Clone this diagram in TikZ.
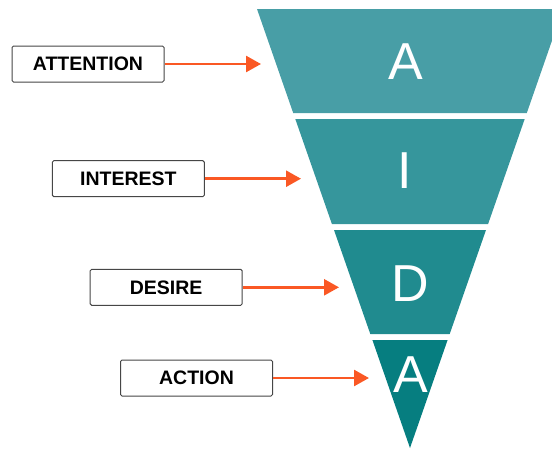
\documentclass[tikz,border=0pt]{standalone}
\usepackage{fontspec}
\setmainfont{Liberation Sans}
\usetikzlibrary{arrows.meta}
\definecolor{bandA}{RGB}{72,158,166}
\definecolor{bandI}{RGB}{54,150,156}
\definecolor{bandD}{RGB}{32,139,143}
\definecolor{bandAc}{RGB}{6,126,128}
\definecolor{arrowc}{RGB}{250,88,36}
\definecolor{boxline}{RGB}{70,70,70}
\tikzset{
  labelbox/.style={draw=boxline, line width=1pt, rounded corners=1.5pt, fill=white,
    minimum width=152pt, minimum height=36pt, inner sep=0pt,
    font=\fontsize{19.5}{20}\selectfont\bfseries, text=black},
  bigletter/.style={text=white, font=\fontsize{52}{52}\selectfont, anchor=base, inner sep=0pt},
  pointer/.style={draw=arrowc, line width=2.6pt, -{Triangle[length=15pt, width=16pt]}}
}
\begin{document}
\begin{tikzpicture}[x=1pt, y=-1pt]
\useasboundingbox (0,0) rectangle (552,450);
\begin{scope}
\clip (0,0) rectangle (552,450);
% funnel bands
\fill[bandA] (257,9) -- (563,9) -- (526.8,113) -- (293.2,113) -- cycle;
\fill[bandI] (295.3,119) -- (524.7,119) -- (488.1,224) -- (331.9,224) -- cycle;
\fill[bandD] (334.0,230) -- (486.0,230) -- (449.7,334) -- (370.3,334) -- cycle;
\fill[bandAc] (372.4,340) -- (447.6,340) -- (410,448) -- cycle;
\end{scope}
% letters
\node[bigletter] (lA) at (406,79) {A};
\node[bigletter] (lI) at (405,188) {I};
\node[bigletter] (lD) at (410,301.5) {D};
\node[bigletter] (lAc) at (411,392) {A};
% label boxes
\node[labelbox] (attention) at (88,64) {ATTENTION};
\node[labelbox] (interest) at (128.3,178.7) {INTEREST};
\node[labelbox] (desire) at (166.2,287.3) {DESIRE};
\node[labelbox] (action) at (196.5,378) {ACTION};
% arrow tips
\coordinate (tA) at (261,64);
\coordinate (tI) at (301,178.7);
\coordinate (tD) at (339,287.3);
\coordinate (tAc) at (369,378);
\draw[pointer] (attention.east) -- (tA);
\draw[pointer] (interest.east) -- (tI);
\draw[pointer] (desire.east) -- (tD);
\draw[pointer] (action.east) -- (tAc);
\end{tikzpicture}
\end{document}
